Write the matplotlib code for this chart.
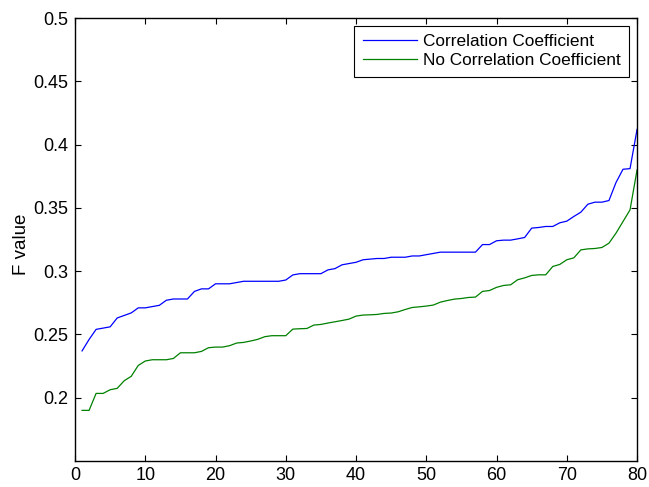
import numpy as np
import matplotlib.pyplot as plt

plt.rcParams['font.family'] = ['Liberation Sans', 'DejaVu Sans']

# x positions 1..80
runs = list(range(1, 81))

# F values with correlation coefficient (blue)
corr = [0.237, 0.246, 0.254, 0.255, 0.256, 0.263, 0.265, 0.267, 0.271, 0.271,
        0.272, 0.273, 0.277, 0.278, 0.278, 0.278, 0.284, 0.286, 0.286, 0.290,
        0.290, 0.290, 0.291, 0.292, 0.292, 0.292, 0.292, 0.292, 0.292, 0.293,
        0.297, 0.298, 0.298, 0.298, 0.298, 0.301, 0.302, 0.305, 0.306, 0.307,
        0.309, 0.3095, 0.310, 0.310, 0.311, 0.311, 0.311, 0.312, 0.312, 0.313,
        0.314, 0.315, 0.315, 0.315, 0.315, 0.315, 0.315, 0.321, 0.321, 0.324,
        0.3245, 0.3245, 0.3255, 0.3266, 0.334, 0.3345, 0.3353, 0.3353, 0.3382, 0.3395,
        0.3432, 0.3466, 0.3529, 0.3545, 0.3545, 0.3558, 0.370, 0.3805, 0.381, 0.412]

# F values without correlation coefficient (green)
nocorr = [0.190, 0.190, 0.2034, 0.2034, 0.2063, 0.2074, 0.2134, 0.2169, 0.2255, 0.229,
          0.230, 0.230, 0.230, 0.231, 0.2355, 0.2355, 0.2355, 0.2366, 0.2395, 0.240,
          0.240, 0.2411, 0.2432, 0.2437, 0.2448, 0.2461, 0.2482, 0.249, 0.249, 0.249,
          0.2542, 0.2545, 0.2547, 0.2574, 0.2579, 0.259, 0.260, 0.261, 0.2621, 0.2645,
          0.2653, 0.2655, 0.2658, 0.2666, 0.2669, 0.2679, 0.2697, 0.2713, 0.2718, 0.2724,
          0.2732, 0.2755, 0.2768, 0.2779, 0.2784, 0.2792, 0.2795, 0.284, 0.2847, 0.2872,
          0.2887, 0.2892, 0.2932, 0.2947, 0.2966, 0.2971, 0.2971, 0.3037, 0.3053, 0.309,
          0.3105, 0.3168, 0.3176, 0.3179, 0.3187, 0.3221, 0.330, 0.3392, 0.3484, 0.380]

fig = plt.figure(figsize=(6.49, 4.87), dpi=100)
ax = fig.add_axes([0.1156, 0.0534, 0.866, 0.9096])

ax.plot(runs, corr, color=(0, 0, 1), lw=0.9, label='Correlation Coefficient')
ax.plot(runs, nocorr, color=(0, 0.5, 0), lw=0.9, label='No Correlation Coefficient')

ax.set_xlim(0, 80)
ax.set_ylim(0.15, 0.5)
ax.set_xticks(np.arange(0, 81, 10))
ax.set_yticks([0.2, 0.25, 0.3, 0.35, 0.4, 0.45, 0.5])
ax.set_yticklabels(['0.2', '0.25', '0.3', '0.35', '0.4', '0.45', '0.5'])
ax.tick_params(direction='in', top=True, right=True, length=4, labelsize=13, width=0.8)
ax.tick_params(axis='y', pad=5)
ax.tick_params(axis='x', pad=4.5)
for s in ax.spines.values():
    s.set_linewidth(1.0)
ax.set_ylabel('F value', fontsize=13.5)
ax.yaxis.set_label_coords(-0.08, 0.49)

leg = ax.legend(loc='upper right', fontsize=12.4, handlelength=3.15, fancybox=False,
                framealpha=1, edgecolor='black', borderaxespad=0.45,
                borderpad=0.5, labelspacing=0.22, handletextpad=0.35)
leg.get_frame().set_linewidth(0.8)

fig.savefig('out.png', dpi=100)
